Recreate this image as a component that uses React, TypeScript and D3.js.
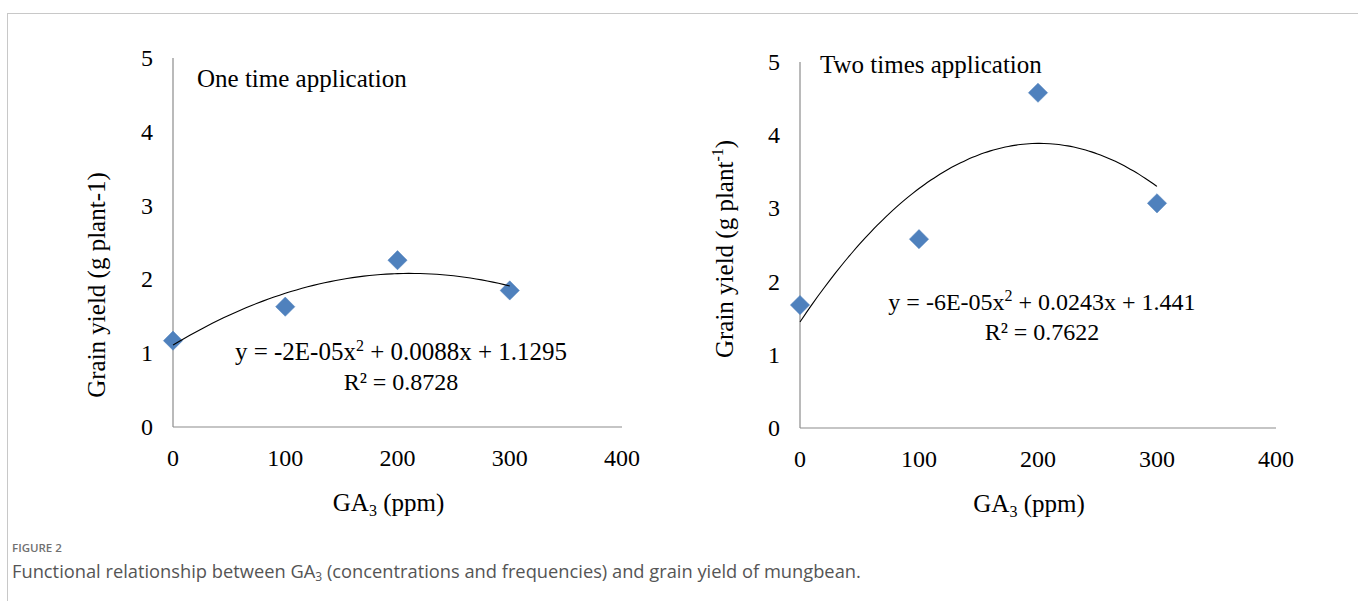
import React from "react";
import * as d3 from "d3";

const xValues = [0, 100, 200, 300];
const oneTimeYield = [1.17, 1.63, 2.26, 1.85];
const twoTimesYield = [1.68, 2.58, 4.58, 3.07];
const xTicks = [0, 100, 200, 300, 400];
const yTicks = [0, 1, 2, 3, 4, 5];
const panelTitles = ["One time application", "Two times application"];
const equations = ["y = -2E-05x", "y = -6E-05x"];
const equationTails = ["+ 0.0088x + 1.1295", "+ 0.0243x + 1.441"];
const rSquared = ["R² = 0.8728", "R² = 0.7622"];

const W = 1358;
const H = 601;
const serif = "'Liberation Serif', 'Times New Roman', serif";
const sans = "'Open Sans', Lato, sans-serif";

function quadFit(xs: number[], ys: number[]) {
  const n = xs.length;
  const s = [0, 0, 0, 0, 0];
  const t = [0, 0, 0];
  for (let i = 0; i < n; i++) {
    const x = xs[i];
    const y = ys[i];
    for (let k = 0; k < 5; k++) s[k] += Math.pow(x, k);
    for (let k = 0; k < 3; k++) t[k] += Math.pow(x, k) * y;
  }
  const M = [
    [s[0], s[1], s[2], t[0]],
    [s[1], s[2], s[3], t[1]],
    [s[2], s[3], s[4], t[2]],
  ];
  for (let i = 0; i < 3; i++) {
    let p = i;
    for (let r = i + 1; r < 3; r++) if (Math.abs(M[r][i]) > Math.abs(M[p][i])) p = r;
    [M[i], M[p]] = [M[p], M[i]];
    for (let r = 0; r < 3; r++) {
      if (r === i) continue;
      const f = M[r][i] / M[i][i];
      for (let c = i; c < 4; c++) M[r][c] -= f * M[i][c];
    }
  }
  return [M[0][3] / M[0][0], M[1][3] / M[1][1], M[2][3] / M[2][2]];
}

type PanelProps = {
  idx: number;
  x0: number;
  x1: number;
  yTop: number;
  yBottom: number;
  data: number[];
  titleX: number;
  titleY: number;
  eqX: number;
  eqY: number;
  eqSize: number;
  yTitleX: number;
  yTitleY: number;
  superscriptUnit: boolean;
};

function Panel(p: PanelProps) {
  const x = d3.scaleLinear().domain([0, 400]).range([p.x0, p.x1]);
  const y = d3.scaleLinear().domain([0, 5]).range([p.yBottom, p.yTop]);
  const [a, b, c] = quadFit(xValues, p.data);
  const curvePts = d3.range(0, 301, 5).map((v) => [v, a + b * v + c * v * v] as [number, number]);
  const line = d3
    .line<[number, number]>()
    .x((d) => x(d[0]))
    .y((d) => y(d[1]))
    .curve(d3.curveBasis);
  const diamond = d3.symbol().type(d3.symbolSquare).size(185)();
  const axisColor = "#8c8c8c";
  return (
    <g>
      <line x1={x(0)} x2={x(400)} y1={y(0)} y2={y(0)} stroke={axisColor} strokeWidth={1.2} />
      <line x1={x(0)} x2={x(0)} y1={y(0)} y2={y(5)} stroke={axisColor} strokeWidth={1.2} />
      {yTicks.map((t) => (
        <text key={"y" + t} x={x(0) - 20} y={y(t)} dy="0.33em" textAnchor="end" fontFamily={serif} fontSize={24} fill="#000">
          {t}
        </text>
      ))}
      {xTicks.map((t) => (
        <text key={"x" + t} x={x(t)} y={y(0) + 31} dy="0.33em" textAnchor="middle" fontFamily={serif} fontSize={24} fill="#000">
          {t}
        </text>
      ))}
      {xValues.map((v, i) => (
        <path
          key={"m" + i}
          d={diamond || ""}
          transform={`translate(${x(v)},${y(p.data[i])}) rotate(45)`}
          fill="#4f81bd"
          stroke="#4f81bd"
          strokeWidth={0.5}
        />
      ))}
      <path d={line(curvePts) || ""} fill="none" stroke="#000" strokeWidth={1.1} />
      <text x={p.titleX} y={p.titleY} fontFamily={serif} fontSize={25} fill="#000">
        {panelTitles[p.idx]}
      </text>
      <text x={p.eqX} y={p.eqY} textAnchor="middle" fontFamily={serif} fontSize={p.eqSize} fill="#000">
        {equations[p.idx]}
        <tspan fontSize={16} dy={-9}>2</tspan>
        <tspan dy={9}>{" " + equationTails[p.idx]}</tspan>
      </text>
      <text x={p.eqX} y={p.eqY + 30} textAnchor="middle" fontFamily={serif} fontSize={24} fill="#000">
        {rSquared[p.idx]}
      </text>
      <text
        transform={`translate(${p.yTitleX},${p.yTitleY}) rotate(-90)`}
        textAnchor="middle"
        dy="0.33em"
        fontFamily={serif}
        fontSize={25}
        fill="#000"
      >
        {p.superscriptUnit ? (
          <>
            Grain yield (g plant
            <tspan fontSize={16} dy={-10}>-1</tspan>
            <tspan dy={10}>)</tspan>
          </>
        ) : (
          "Grain yield (g plant-1)"
        )}
      </text>
      <text x={(p.x0 + p.x1) / 2 - 9} y={y(0) + 84} textAnchor="middle" fontFamily={serif} fontSize={25} fill="#000">
        GA
        <tspan fontSize={16} dy={5}>3</tspan>
        <tspan dy={-5}> (ppm)</tspan>
      </text>
    </g>
  );
}

export default function App() {
  return (
    <svg
      width={W}
      height={H}
      style={{ position: "absolute", left: 0, top: 0, background: "#fff" }}
      xmlns="http://www.w3.org/2000/svg"
    >
      <rect x={0} y={0} width={W} height={H} fill="#fff" />
      <line x1={7} x2={W} y1={13.5} y2={13.5} stroke="#c8c8c8" strokeWidth={1} />
      <line x1={7.5} x2={7.5} y1={13} y2={H} stroke="#c8c8c8" strokeWidth={1} />
      <Panel
        idx={0}
        x0={173}
        x1={622}
        yTop={58}
        yBottom={427}
        data={oneTimeYield}
        titleX={197}
        titleY={87}
        eqX={401}
        eqY={360}
        eqSize={25}
        yTitleX={97}
        yTitleY={285}
        superscriptUnit={false}
      />
      <Panel
        idx={1}
        x0={800}
        x1={1276}
        yTop={62}
        yBottom={428}
        data={twoTimesYield}
        titleX={820}
        titleY={73}
        eqX={1042}
        eqY={310}
        eqSize={24}
        yTitleX={725}
        yTitleY={249}
        superscriptUnit={true}
      />
      <text x={12} y={552} fontFamily={sans} fontSize={11.5} fontWeight={600} fill="#707070">
        FIGURE 2
      </text>
      <text x={12} y={578} fontFamily={sans} fontSize={18.3} fill="#555">
        Functional relationship between GA
        <tspan fontSize={12} dy={3}>3</tspan>
        <tspan dy={-3}> (concentrations and frequencies) and grain yield of mungbean.</tspan>
      </text>
    </svg>
  );
}
